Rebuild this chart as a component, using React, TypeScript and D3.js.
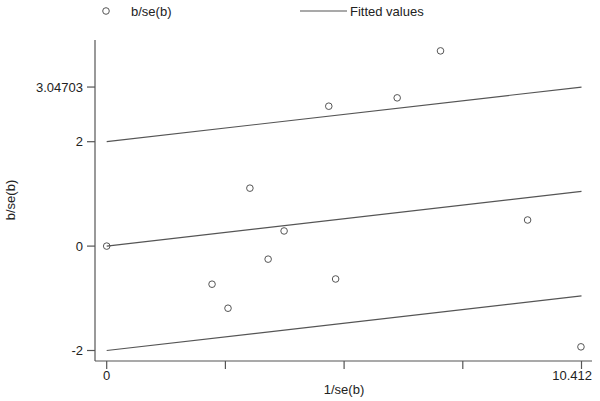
import React, { useRef, useEffect } from "react";
import * as d3 from "d3";

// precision (1/se) and standardised estimate (b/se) for each study
const precision = [0, 2.31, 2.66, 3.14, 3.54, 3.89, 4.87, 5.02, 6.37, 7.32, 9.23, 10.40];
const zScores = [0, -0.73, -1.19, 1.11, -0.25, 0.29, 2.68, -0.63, 2.84, 3.74, 0.5, -1.93];

const xTicks = [0, 2.603, 5.206, 7.809, 10.412];
const xTickLabels = ["0", "", "", "", "10.412"];
const yTicks = [-2, 0, 2, 3.04703];
const yTickLabels = ["-2", "0", "2", "3.04703"];

// fitted line: b/se = slope * (1/se), with bands at +/- 2
const fitSlope = 1.04703 / 10.412;
const bandOffsets = [-2, 0, 2];
const fitRange = [0, 10.412];

const W = 600;
const H = 401;
const font = "'Liberation Sans', Arial, sans-serif";

const App = () => {
  const svgRef = useRef<SVGSVGElement>(null);

  useEffect(() => {
    const svg = d3.select(svgRef.current);
    svg.selectAll("*").remove();

    const x = d3.scaleLinear().domain([0, 10.412]).range([106.7, 581.5]);
    const y = d3.scaleLinear().domain([-2, 2]).range([350.5, 141.7]);
    const axisX = 95;
    const axisY = 361;
    const axisRight = 592;
    const grey = "#555";

    // axes lines
    svg.append("line").attr("x1", axisX).attr("x2", axisX).attr("y1", 40).attr("y2", axisY)
      .attr("stroke", grey).attr("stroke-width", 1.2);
    svg.append("line").attr("x1", axisX).attr("x2", axisRight).attr("y1", axisY).attr("y2", axisY)
      .attr("stroke", grey).attr("stroke-width", 1.2);

    // y ticks
    const yt = svg.append("g");
    yTicks.forEach((t, i) => {
      yt.append("line").attr("x1", axisX - 8).attr("x2", axisX).attr("y1", y(t)).attr("y2", y(t))
        .attr("stroke", grey).attr("stroke-width", 1.2);
      yt.append("text").attr("x", axisX - 12).attr("y", y(t)).attr("dy", "0.35em")
        .attr("text-anchor", "end").attr("font-family", font).attr("font-size", 13)
        .attr("fill", "#222").text(yTickLabels[i]);
    });

    // x ticks (the last label is kept inside the axis end)
    const xt = svg.append("g");
    xTicks.forEach((t, i) => {
      xt.append("line").attr("x1", x(t)).attr("x2", x(t)).attr("y1", axisY).attr("y2", axisY + 8)
        .attr("stroke", grey).attr("stroke-width", 1.2);
      if (xTickLabels[i]) {
        const last = i === xTicks.length - 1;
        xt.append("text").attr("x", last ? axisRight : x(t)).attr("y", axisY + 19)
          .attr("text-anchor", last ? "end" : "middle").attr("font-family", font)
          .attr("font-size", 13).attr("fill", "#222").text(xTickLabels[i]);
      }
    });

    // axis titles
    svg.append("text").attr("x", 344).attr("y", 394).attr("text-anchor", "middle")
      .attr("font-family", font).attr("font-size", 13).attr("fill", "#222").text("1/se(b)");
    svg.append("text").attr("transform", "translate(15,200) rotate(-90)").attr("text-anchor", "middle")
      .attr("font-family", font).attr("font-size", 13).attr("fill", "#222").text("b/se(b)");

    // fitted lines
    const line = d3.line<number>().x((d) => x(d));
    bandOffsets.forEach((off) => {
      svg.append("path")
        .attr("d", line.y((d) => y(off + fitSlope * d))(fitRange))
        .attr("fill", "none").attr("stroke", grey).attr("stroke-width", 1.2);
    });

    // points
    svg.append("g").selectAll("circle").data(precision).join("circle")
      .attr("cx", (d) => x(d)).attr("cy", (d, i) => y(zScores[i])).attr("r", 3.3)
      .attr("fill", "none").attr("stroke", grey).attr("stroke-width", 1);

    // legend
    svg.append("circle").attr("cx", 106).attr("cy", 11).attr("r", 3.3)
      .attr("fill", "none").attr("stroke", grey).attr("stroke-width", 1);
    svg.append("text").attr("x", 131).attr("y", 15.5).attr("font-family", font)
      .attr("font-size", 13).attr("fill", "#222").text("b/se(b)");
    svg.append("line").attr("x1", 300).attr("x2", 347).attr("y1", 11).attr("y2", 11)
      .attr("stroke", grey).attr("stroke-width", 1.2);
    svg.append("text").attr("x", 350).attr("y", 15.5).attr("font-family", font)
      .attr("font-size", 13).attr("fill", "#222").text("Fitted values");
  }, []);

  return (
    <svg ref={svgRef} width={W} height={H}
      style={{ position: "absolute", left: 0, top: 0, background: "#fff" }} />
  );
};

export default App;
